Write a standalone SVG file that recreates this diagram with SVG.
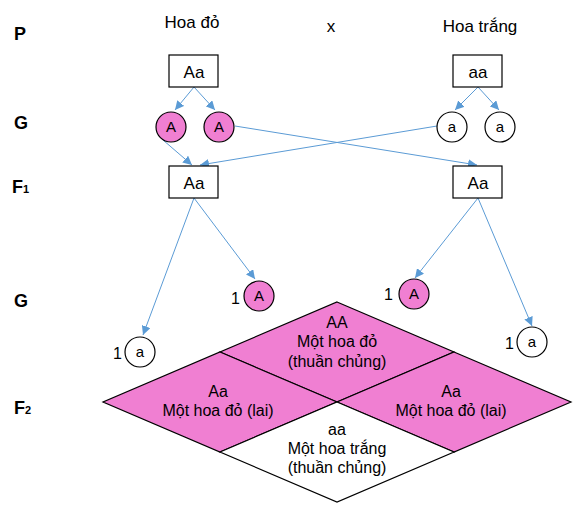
<svg xmlns="http://www.w3.org/2000/svg" width="576" height="507" viewBox="0 0 576 507">
<style>
text{font-family:"Liberation Sans",Arial,sans-serif;fill:#000;text-anchor:middle}
.lbl{font-weight:bold;font-size:18px;text-anchor:start}
.t16{font-size:16px}
.h{font-size:17px}
.box{fill:#fff;stroke:#000;stroke-width:1.2}
.pink{fill:#F07FD2;stroke:#000;stroke-width:1.2}
.white{fill:#fff;stroke:#000;stroke-width:1.2}
.g{font-size:15px}
.n{font-size:16px;text-anchor:end}
.c{stroke:#5B9BD5;stroke-width:1;fill:none;marker-end:url(#ah)}
</style>
<defs>
<marker id="ah" viewBox="0 0 10 10" refX="10" refY="5" markerWidth="9" markerHeight="9" markerUnits="userSpaceOnUse" orient="auto">
<path d="M0,0 L10,5 L0,10 z" fill="#5B9BD5"/>
</marker>
</defs>
<rect width="576" height="507" fill="#fff"/>
<g id="row-labels">
<text class="lbl" x="14" y="40">P</text>
<text class="lbl" x="14" y="129">G</text>
<text class="lbl" x="12" y="193">F<tspan font-size="11">1</tspan></text>
<text class="lbl" x="14" y="307">G</text>
<text class="lbl" x="14" y="414">F<tspan font-size="11">2</tspan></text>
</g>
<g id="headers">
<text class="h" x="192" y="28">Hoa đỏ</text>
<text class="h" x="331" y="32">x</text>
<text class="h" x="480" y="32">Hoa trắng</text>
</g>
<g id="connectors">
<line class="c" x1="194" y1="87" x2="175" y2="110"/>
<line class="c" x1="194" y1="87" x2="215" y2="110"/>
<line class="c" x1="478" y1="87" x2="455" y2="110"/>
<line class="c" x1="478" y1="87" x2="499" y2="110"/>
<line class="c" x1="163" y1="140" x2="192" y2="165"/>
<line class="c" x1="437" y1="126" x2="200" y2="165"/>
<line class="c" x1="235" y1="126" x2="477" y2="165"/>
<line class="c" x1="194" y1="198" x2="143" y2="335"/>
<line class="c" x1="194" y1="198" x2="255" y2="279"/>
<line class="c" x1="478" y1="198" x2="415" y2="278"/>
<line class="c" x1="478" y1="198" x2="532" y2="326"/>
</g>
<g id="P-Aa"><rect class="box" x="169" y="55" width="49" height="32"/><text x="194" y="78" font-size="17">Aa</text></g>
<g id="P-aa"><rect class="box" x="453" y="55" width="49" height="32"/><text x="478" y="78" font-size="17">aa</text></g>
<g id="G-A1"><circle class="pink" cx="171" cy="127" r="15"/><text class="g" x="171" y="132">A</text></g>
<g id="G-A2"><circle class="pink" cx="219" cy="127" r="15"/><text class="g" x="219" y="132">A</text></g>
<g id="G-a1"><circle class="white" cx="452" cy="127" r="15"/><text class="g" x="452" y="132">a</text></g>
<g id="G-a2"><circle class="white" cx="500" cy="127" r="15"/><text class="g" x="500" y="132">a</text></g>
<g id="F1-left"><rect class="box" x="169" y="166" width="49" height="32"/><text x="194" y="189" font-size="17">Aa</text></g>
<g id="F1-right"><rect class="box" x="453" y="166" width="49" height="32"/><text x="478" y="189" font-size="17">Aa</text></g>
<g id="G2-A-left"><circle class="pink" cx="259" cy="296" r="15"/><text class="g" x="259" y="301">A</text><text class="n" x="240" y="304">1</text></g>
<g id="G2-a-left"><circle class="white" cx="140" cy="352" r="15"/><text class="g" x="140" y="357">a</text><text class="n" x="122" y="359">1</text></g>
<g id="G2-A-right"><circle class="pink" cx="414" cy="294" r="15"/><text class="g" x="414" y="299">A</text><text class="n" x="393" y="300">1</text></g>
<g id="G2-a-right"><circle class="white" cx="532" cy="342" r="15"/><text class="g" x="532" y="347">a</text><text class="n" x="514" y="349">1</text></g>
<g id="F2-AA">
<polygon class="pink" points="337,302 454,352 337,402 220,352"/>
<text class="t16" x="337" y="328">AA</text>
<text class="t16" x="337" y="347">Một hoa đỏ</text>
<text class="t16" x="337" y="367">(thuần chủng)</text>
</g>
<g id="F2-Aa-left">
<polygon class="pink" points="220,352 337,402 220,452 103,402"/>
<text class="t16" x="218" y="397">Aa</text>
<text class="t16" x="218" y="416">Một hoa đỏ (lai)</text>
</g>
<g id="F2-Aa-right">
<polygon class="pink" points="454,352 571,402 454,452 337,402"/>
<text class="t16" x="451" y="397">Aa</text>
<text class="t16" x="451" y="416">Một hoa đỏ (lai)</text>
</g>
<g id="F2-aa">
<polygon class="white" points="337,402 454,452 337,502 220,452"/>
<text class="t16" x="337" y="435">aa</text>
<text class="t16" x="337" y="454">Một hoa trắng</text>
<text class="t16" x="337" y="473">(thuần chủng)</text>
</g>
</svg>
